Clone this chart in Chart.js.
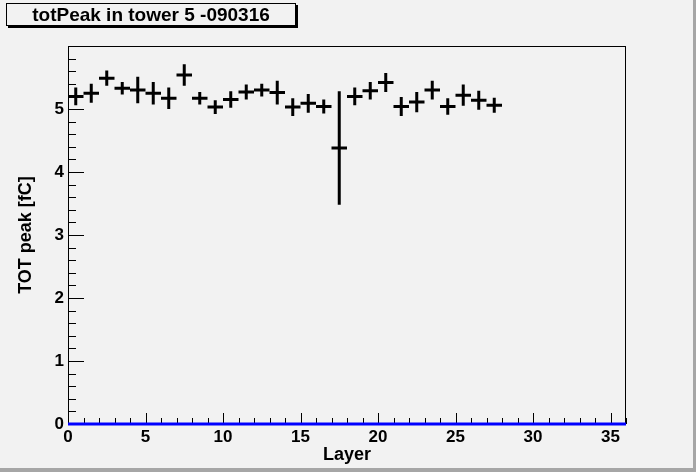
<!DOCTYPE html>
<html>
<head>
<meta charset="utf-8">
<title>totPeak in tower 5 -090316</title>
<script src="https://cdn.jsdelivr.net/npm/chart.js@4.4.1/dist/chart.umd.min.js"></script>
<style>
  html, body { margin: 0; padding: 0; background: #f2f2f2; }
  canvas { display: block; }
</style>
</head>
<body>
<canvas id="grafik" width="696" height="472"></canvas>
<script>
// data: one bin per layer, value at bin centre
const layers = [0, 1, 2, 3, 4, 5, 6, 7, 8, 9, 10, 11, 12, 13, 14, 15, 16, 17, 18, 19, 20, 21, 22, 23, 24, 25, 26, 27];
const totPeak = [5.20, 5.25, 5.49, 5.33, 5.30, 5.25, 5.17, 5.54, 5.17, 5.03, 5.15, 5.27, 5.30, 5.26,
                 5.03, 5.09, 5.04, 4.38, 5.20, 5.29, 5.42, 5.04, 5.11, 5.30, 5.04, 5.22, 5.14, 5.06];
const totErr = [0.14, 0.15, 0.12, 0.10, 0.21, 0.18, 0.17, 0.17, 0.10, 0.11, 0.13, 0.12, 0.10, 0.19,
                0.14, 0.15, 0.11, 0.90, 0.14, 0.14, 0.15, 0.15, 0.16, 0.15, 0.13, 0.17, 0.15, 0.12];
const xRange = [0, 36];
const yRange = [0, 6];
const xTicks = [0, 5, 10, 15, 20, 25, 30, 35];
const yTicks = [0, 1, 2, 3, 4, 5];

const judul = "totPeak in tower 5 -090316";
const fontRoot = "'Liberation Sans', Arial, Helvetica, sans-serif";

const rootPlugin = {
  id: "rootLook",
  beforeDraw(chart) {
    const ctx = chart.ctx;
    ctx.save();
    ctx.fillStyle = "#f2f2f2";
    ctx.fillRect(0, 0, chart.width, chart.height);
    ctx.restore();
  },
  beforeDatasetsDraw(chart) {
    const ctx = chart.ctx;
    const x = chart.scales.x;
    const y = chart.scales.y;
    const area = chart.chartArea;
    ctx.save();
    ctx.strokeStyle = "#000";

    // frame
    ctx.lineWidth = 1;
    ctx.strokeRect(area.left + 0.5, area.top + 0.5, area.right - area.left - 1, area.bottom - area.top);

    // ticks pointing inward like ROOT
    ctx.beginPath();
    for (let v = xRange[0]; v <= xRange[1]; v++) {
      const px = Math.round(x.getPixelForValue(v)) + 0.5;
      const len = v % 5 === 0 ? 11 : 6;
      ctx.moveTo(px, area.bottom);
      ctx.lineTo(px, area.bottom - len);
    }
    for (let k = 0; k <= 30; k++) {
      const v = k * 0.2;
      const py = Math.round(y.getPixelForValue(v)) + 0.5;
      const len = k % 5 === 0 ? 16 : 8;
      ctx.moveTo(area.left, py);
      ctx.lineTo(area.left + len, py);
    }
    ctx.stroke();
    ctx.restore();
  },
  afterDatasetsDraw(chart) {
    const ctx = chart.ctx;
    const x = chart.scales.x;
    const y = chart.scales.y;
    ctx.save();

    // error crosses
    ctx.strokeStyle = "#000";
    ctx.lineWidth = 3;
    ctx.lineCap = "butt";
    layers.forEach((l, i) => {
      const xl = x.getPixelForValue(l);
      const xr = x.getPixelForValue(l + 1);
      const xc = x.getPixelForValue(l + 0.5);
      const yc = y.getPixelForValue(totPeak[i]);
      ctx.beginPath();
      ctx.moveTo(xl, yc);
      ctx.lineTo(xr, yc);
      ctx.moveTo(xc, y.getPixelForValue(totPeak[i] + totErr[i]));
      ctx.lineTo(xc, y.getPixelForValue(totPeak[i] - totErr[i]));
      ctx.stroke();
    });

    // title box with shadow
    ctx.fillStyle = "#000";
    ctx.fillRect(8, 5, 290, 23);
    ctx.fillStyle = "#f2f2f2";
    ctx.fillRect(6, 3, 290, 23);
    ctx.lineWidth = 1;
    ctx.strokeRect(6.5, 3.5, 289, 22);
    ctx.fillStyle = "#000";
    ctx.font = "bold 19px " + fontRoot;
    ctx.textAlign = "center";
    ctx.textBaseline = "middle";
    ctx.fillText(judul, 151, 16);

    // canvas bevel
    ctx.fillStyle = "#a6a6a6";
    ctx.fillRect(chart.width - 3, 0, 3, chart.height);
    ctx.fillRect(0, chart.height - 4, chart.width, 4);
    ctx.restore();
  }
};

const ctx = document.getElementById("grafik").getContext("2d");
const chart = new Chart(ctx, {
  type: "scatter",
  data: {
    datasets: [
      {
        label: "baseline",
        type: "line",
        data: [{ x: xRange[0], y: 0 }, { x: xRange[1], y: 0 }],
        borderColor: "#0000ff",
        borderWidth: 3,
        pointRadius: 0,
        clip: false
      },
      {
        label: "totPeak",
        data: layers.map((l, i) => ({ x: l + 0.5, y: totPeak[i] })),
        pointRadius: 0,
        showLine: false
      }
    ]
  },
  options: {
    responsive: false,
    animation: false,
    devicePixelRatio: 1,
    layout: { padding: { left: 0, right: 70, top: 46, bottom: 0 } },
    plugins: {
      legend: { display: false },
      tooltip: { enabled: false },
      title: { display: false }
    },
    scales: {
      x: {
        type: "linear",
        min: xRange[0],
        max: xRange[1],
        afterFit: s => { s.height = 48; },
        afterBuildTicks: s => { s.ticks = xTicks.map(v => ({ value: v })); },
        grid: { display: false, drawTicks: false, tickLength: 0 },
        border: { display: false },
        ticks: {
          color: "#000",
          font: { family: fontRoot, size: 17, weight: "bold" },
          padding: 3,
          maxRotation: 0
        },
        title: {
          display: true,
          text: "Layer",
          color: "#000",
          font: { family: fontRoot, size: 18, weight: "bold" },
          padding: { top: 0, bottom: 6 }
        }
      },
      y: {
        type: "linear",
        min: yRange[0],
        max: yRange[1],
        afterFit: s => { s.width = 68; },
        afterBuildTicks: s => { s.ticks = yTicks.map(v => ({ value: v })); },
        grid: { display: false, drawTicks: false, tickLength: 0 },
        border: { display: false },
        ticks: {
          color: "#000",
          font: { family: fontRoot, size: 17, weight: "bold" },
          padding: 4
        },
        title: {
          display: true,
          text: "TOT peak [fC]",
          color: "#000",
          font: { family: fontRoot, size: 18, weight: "bold" },
          padding: { top: 15, bottom: 0 }
        }
      }
    }
  },
  plugins: [rootPlugin]
});
</script>
</body>
</html>
